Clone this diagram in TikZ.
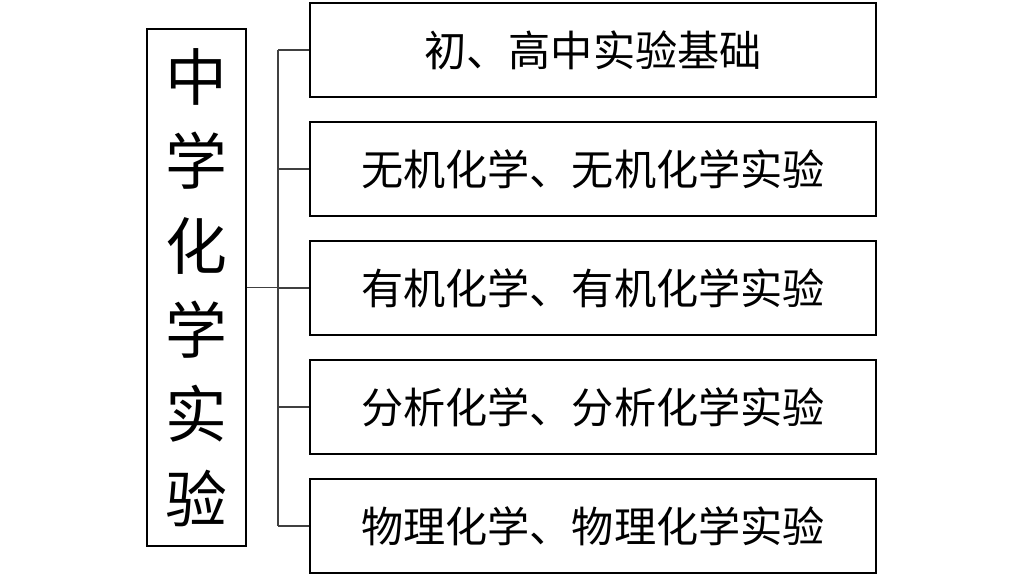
\documentclass[tikz,border=0pt]{standalone}
\usepackage{fontspec}
\newfontfamily\cjk{Noto Sans CJK SC}
\usepackage{tikz}
\usetikzlibrary{positioning}

\begin{document}
\begin{tikzpicture}[
			topicnd/.style={draw=black, line width=1pt, minimum width=14.15cm,
				minimum height=2.35cm, inner sep=0pt, align=center,
				font=\cjk\fontsize{30}{36}\selectfont},
			rootnd/.style ={draw=black, line width=1pt, minimum width=2.475cm,
				minimum height=12.925cm, inner sep=0pt, align=center,
				font=\cjk\fontsize{44}{60}\selectfont},
			link/.style={line width=0.8pt, black!75},
			]
			
			%% ── Page frame ───────────────────────────────────────────────────────────────
			\useasboundingbox (0,0) rectangle (25.6,-14.7);
			
			%% ── Root: left column ────────────────────────────────────────────────────────
			\node[rootnd] (root) at (4.9125,-7.1875)
			{中\\学\\化\\学\\实\\验};
			
			%% ── Topic boxes ──────────────────────────────────────────────────────────────
			\node[topicnd] (basic)    at (14.825,-1.25)   {初、高中实验基础};
			\node[topicnd] (inorg)    at (14.825,-4.225)  {无机化学、无机化学实验};
			\node[topicnd] (organic)  at (14.825,-7.2)    {有机化学、有机化学实验};
			\node[topicnd] (analytic) at (14.825,-10.175) {分析化学、分析化学实验};
			\node[topicnd] (physchem) at (14.825,-13.15)  {物理化学、物理化学实验};
			
			%% ── Bracket connectors ───────────────────────────────────────────────────────
			\coordinate (bus) at (6.95,-7.2);
			\draw[link] (root.east) -- (root.east -| bus);
			\draw[link] (basic.west -| bus) -- (physchem.west -| bus);
			\foreach \t in {basic,inorg,organic,analytic,physchem}
				\draw[link] (\t.west -| bus) -- (\t.west);
			
		\end{tikzpicture}
\end{document}
